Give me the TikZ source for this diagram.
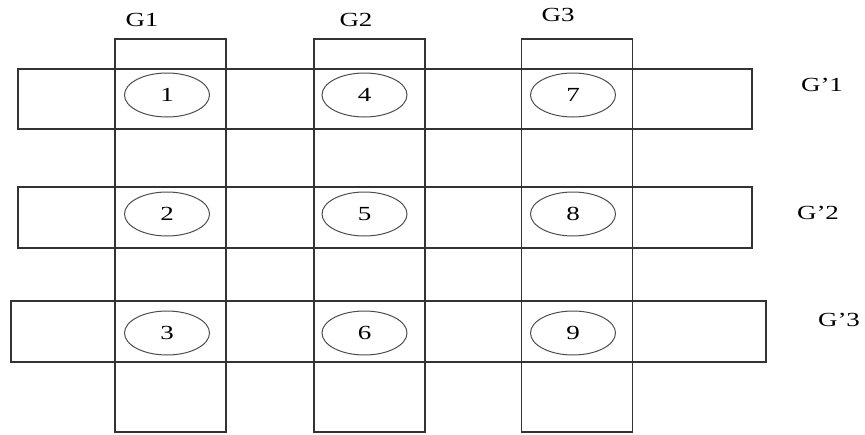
\documentclass[tikz,border=0pt]{standalone}
\usepackage{fontspec}
\setmainfont{Liberation Serif}
\usetikzlibrary{shapes.geometric}
\newcommand{\wide}[1]{\scalebox{1.35}[1]{#1}}
\begin{document}
\begin{tikzpicture}[x=1pt,y=-1pt,
  band/.style={draw=black!80, line width=1.3pt, rectangle, inner sep=0pt, outer sep=0pt},
  cell/.style={draw=black!70, line width=1pt, ellipse, minimum width=85pt, minimum height=44pt, inner sep=0pt, font=\fontsize{20}{24}\selectfont},
  lbl/.style={font=\fontsize{20}{24}\selectfont, inner sep=0pt}]
\useasboundingbox (0,0) rectangle (865,434);
% vertical groups
\node[band, minimum width=111pt, minimum height=393pt] (V1) at (170.5,235.5) {};
\node[band, minimum width=111pt, minimum height=393pt] (V2) at (369.5,235.5) {};
\node[band, minimum width=111pt, minimum height=393pt] (V3) at (577,235.5) {};
% horizontal groups
\node[band, minimum width=734pt, minimum height=60pt] (H1) at (385,99) {};
\node[band, minimum width=734pt, minimum height=61pt] (H2) at (385,217.5) {};
\node[band, minimum width=755pt, minimum height=61pt] (H3) at (388.5,331.5) {};
% cells
\node[cell] (c1) at (167,95) {\wide{1}};
\node[cell] (c4) at (364.5,95) {\wide{4}};
\node[cell] (c7) at (573,95) {\wide{7}};
\node[cell] (c2) at (167,214) {\wide{2}};
\node[cell] (c5) at (364.5,214) {\wide{5}};
\node[cell] (c8) at (573,214) {\wide{8}};
\node[cell] (c3) at (167,333) {\wide{3}};
\node[cell] (c6) at (364.5,333) {\wide{6}};
\node[cell] (c9) at (573,333) {\wide{9}};
% labels
\node[lbl] (g1) at (142,20) {\wide{G1}};
\node[lbl] (g2) at (356,20) {\wide{G2}};
\node[lbl] (g3) at (558,15) {\wide{G3}};
\node[lbl] (gp1) at (822,85) {\wide{G’1}};
\node[lbl] (gp2) at (818,213) {\wide{G’2}};
\node[lbl] (gp3) at (839,320) {\wide{G’3}};
\end{tikzpicture}
\end{document}
